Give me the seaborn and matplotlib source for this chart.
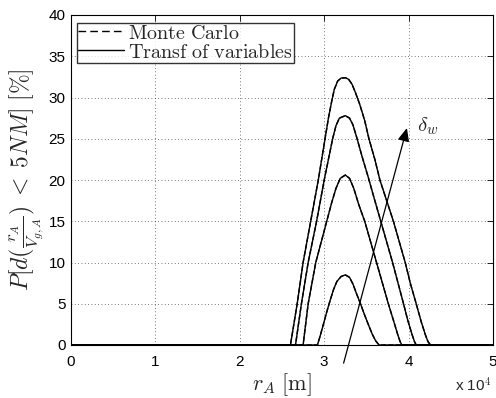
import numpy as np
import pandas as pd
import matplotlib
matplotlib.use("Agg")
import matplotlib.pyplot as plt
import seaborn as sns
from matplotlib.lines import Line2D

# Data (r_A in units of 10^4 m, probability in %)
r_1 = [0, 2.60, 2.64, 2.68, 2.715, 2.75, 2.795, 2.84, 2.885, 2.93, 2.97, 3.01, 3.05, 3.09, 3.12, 3.16, 3.20,
       3.25, 3.29, 3.33, 3.37, 3.42, 3.48, 3.53, 3.60, 3.66, 3.74, 3.82, 3.89, 3.96, 4.02, 4.09, 4.15,
       4.20, 4.23, 4.26, 5.0]
p_1 = [0, 0, 2.5, 5, 7.5, 10, 12.5, 15, 17.5, 20, 22.5, 25, 27.5, 29.6, 31.0, 32.0, 32.35,
       32.4, 32.2, 31.6, 30.6, 29.2, 27.2, 25, 22.5, 20, 17.5, 15, 12.5, 10, 7.5, 5, 2.8,
       1.2, 0.4, 0, 0]

r_2 = [0, 2.66, 2.695, 2.73, 2.77, 2.81, 2.86, 2.91, 2.955, 3.00, 3.05, 3.10, 3.14, 3.18, 3.25, 3.30,
       3.34, 3.39, 3.45, 3.52, 3.60, 3.67, 3.74, 3.81, 3.875, 3.94, 3.99, 4.04, 4.07, 4.09, 5.0]
p_2 = [0, 0, 2.5, 5, 7.5, 10, 12.5, 15, 17.5, 20, 22.5, 25, 26.6, 27.5, 27.8, 27.5,
       26.7, 25, 22.8, 20.4, 17.5, 15, 12.5, 10, 7.5, 5, 3, 1.3, 0.4, 0, 0]

r_3 = [0, 2.75, 2.78, 2.81, 2.855, 2.90, 2.965, 3.03, 3.09, 3.14, 3.19, 3.25, 3.30, 3.35, 3.41,
       3.48, 3.55, 3.62, 3.69, 3.76, 3.82, 3.87, 3.90, 3.92, 5.0]
p_3 = [0, 0, 2.5, 5, 7.5, 10, 12.5, 15, 17.3, 19.0, 20.2, 20.6, 20.2, 19.0, 17.0,
       15, 12.5, 10, 7.5, 5, 3, 1.3, 0.4, 0, 0]

r_4 = [0, 2.92, 2.955, 2.99, 3.03, 3.07, 3.11, 3.15, 3.20, 3.25, 3.30, 3.34, 3.38, 3.43, 3.48, 3.53,
       3.57, 3.61, 3.65, 5.0]
p_4 = [0, 0, 1.2, 2.5, 4.0, 5.4, 6.7, 7.7, 8.3, 8.5, 8.2, 7.4, 6.3, 5, 3.6, 2.3,
       1.3, 0.5, 0, 0]

x_ticks = [0, 1, 2, 3, 4, 5]
x_tick_labels = ["0", "1", "2", "3", "4", "5"]
y_ticks = [0, 5, 10, 15, 20, 25, 30, 35, 40]

frames = []
for i, (r, p) in enumerate([(r_1, p_1), (r_2, p_2), (r_3, p_3), (r_4, p_4)]):
    frames.append(pd.DataFrame({"r": r, "p": p, "curve": f"c{i}"}))
df = pd.concat(frames, ignore_index=True)

sns.set_style("white")
plt.rcParams["font.family"] = ["Liberation Sans", "DejaVu Sans"]
plt.rcParams["mathtext.fontset"] = "cm"

fig = plt.figure(figsize=(4.96, 3.98), dpi=100)
ax = fig.add_axes([71 / 496, 1 - 345 / 398, (493 - 71) / 496, (345 - 15) / 398])

# Monte Carlo (dashed) and transformation of variables (solid) overlap
sns.lineplot(data=df, x="r", y="p", units="curve", estimator=None, color="black",
             linewidth=1.0, linestyle="--", ax=ax, legend=False, sort=False)
sns.lineplot(data=df, x="r", y="p", units="curve", estimator=None, color="black",
             linewidth=1.0, ax=ax, legend=False, sort=False)

ax.set_xlim(0, 5)
ax.set_ylim(0, 40)
ax.set_xticks(x_ticks)
ax.set_xticklabels(x_tick_labels)
ax.set_yticks(y_ticks)
ax.tick_params(axis="x", pad=7)
ax.tick_params(axis="both", direction="in", length=4, width=0.6, labelsize=11,
               top=True, right=True, colors="black")
ax.tick_params(axis="y", pad=4)
ax.grid(True, linestyle=(0, (1, 3)), color="black", linewidth=0.6, alpha=0.7)
for s in ax.spines.values():
    s.set_visible(True)
    s.set_color("black")
    s.set_linewidth(0.8)

ax.set_xlabel(r"$r_A\ [\mathrm{m}]$", fontsize=16, labelpad=2)
ax.set_ylabel(r"$P[d(\frac{r_A}{V_{g,A}})\;<\;5NM]\ [\%]$", fontsize=17, labelpad=2)

fig.text(455 / 496, 1 - 392 / 398, r"x 10$^{4}$", fontsize=11, ha="left", va="baseline")

# Arrow indicating increasing delta_w
ax.annotate("", xy=(3.98, 26.3), xytext=(3.23, -2.2),
            arrowprops=dict(arrowstyle="-|>,head_length=0.8,head_width=0.35",
                            color="black", lw=0.9, shrinkA=0, shrinkB=0),
            annotation_clip=False)
ax.text(4.1, 26.5, r"$\delta_w$", fontsize=15, ha="left", va="center")

handles = [Line2D([], [], color="black", linestyle=(0, (5.5, 3)), linewidth=1.0),
           Line2D([], [], color="black", linestyle="-", linewidth=1.0)]
leg = ax.legend(handles, [r"$\mathrm{Monte\ Carlo}$", r"$\mathrm{Transf\ of\ variables}$"],
                loc="upper left", bbox_to_anchor=(6 / 422, 1 - 7.5 / 330), borderaxespad=0,
                fontsize=14.5, frameon=True, fancybox=False, handlelength=2.3,
                handletextpad=0.2, borderpad=0.05, labelspacing=0.0)
leg.get_frame().set_edgecolor("black")
leg.get_frame().set_linewidth(1.0)

fig.savefig("out.png", dpi=100)
